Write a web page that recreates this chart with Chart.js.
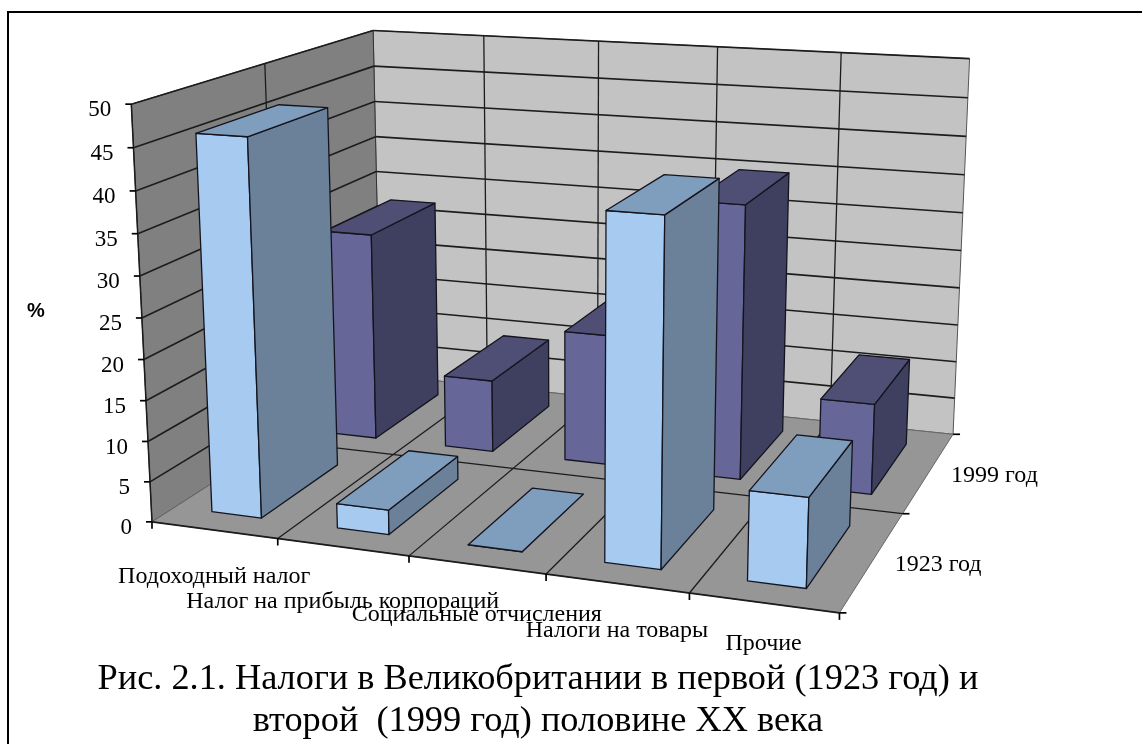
<!DOCTYPE html>
<html>
<head>
<meta charset="utf-8">
<script src="https://cdn.jsdelivr.net/npm/chart.js@4"></script>
<style>
  html, body { margin: 0; background: #fff; }
  canvas { display: block; filter: blur(0.55px); }
</style>
</head>
<body>
<canvas id="myChart" width="1142" height="744"></canvas>
<script>
const categories = ['Подоходный налог', 'Налог на прибыль корпораций', 'Социальные отчисления', 'Налоги на товары', 'Прочие'];
const seriesNames = ['1923 год', '1999 год'];
const values1923 = [46, 3, 0, 40.5, 10.5];
const values1999 = [27.5, 9.5, 17, 35, 11.5];
const axisTitle = '%';
const caption = ['Рис. 2.1. Налоги в Великобритании в первой (1923 год) и', 'второй  (1999 год) половине XX века'];

// where the corners of the 3d box landed in the picture: [u, v, w, px, py]
// u = category units, v = series units, w = 0..1 of the value axis
const calib = [
  [0, 0, 0, 152, 520], [1, 0, 0, 278, 538], [2, 0, 0, 409, 557], [3, 0, 0, 545, 575], [4, 0, 0, 689, 593], [5, 0, 0, 839, 613],
  [5, 1, 0, 905, 513], [5, 2, 0, 952, 433], [0, 2, 0, 381, 377],
  [0, 0, 1, 131, 105], [0, 1, 1, 266, 63], [0, 2, 1, 373, 29],
  [1, 2, 1, 483, 35], [2, 2, 1, 599, 42], [3, 2, 1, 717, 47], [4, 2, 1, 841, 53], [5, 2, 1, 970, 59]
];

function solve(A, b) {
  const n = b.length;
  for (let i = 0; i < n; i++) {
    let p = i;
    for (let r = i + 1; r < n; r++) if (Math.abs(A[r][i]) > Math.abs(A[p][i])) p = r;
    [A[i], A[p]] = [A[p], A[i]];
    [b[i], b[p]] = [b[p], b[i]];
    for (let r = i + 1; r < n; r++) {
      const f = A[r][i] / A[i][i];
      for (let c = i; c < n; c++) A[r][c] -= f * A[i][c];
      b[r] -= f * b[i];
    }
  }
  const x = new Array(n).fill(0);
  for (let i = n - 1; i >= 0; i--) {
    let s = b[i];
    for (let c = i + 1; c < n; c++) s -= A[i][c] * x[c];
    x[i] = s / A[i][i];
  }
  return x;
}

function fitCamera() {
  const rows = [], rhs = [];
  calib.forEach(([u, v, w, x, y]) => {
    rows.push([u, v, w, 1, 0, 0, 0, 0, -x * u, -x * v, -x * w]); rhs.push(x);
    rows.push([0, 0, 0, 0, u, v, w, 1, -y * u, -y * v, -y * w]); rhs.push(y);
  });
  const N = [], t = [];
  for (let i = 0; i < 11; i++) {
    N.push([]);
    t.push(rows.reduce((s, r, k) => s + r[i] * rhs[k], 0));
    for (let j = 0; j < 11; j++) N[i].push(rows.reduce((s, r) => s + r[i] * r[j], 0));
  }
  return solve(N, t);
}
const cam = fitCamera();

function project(u, v, w) {
  const d = cam[8] * u + cam[9] * v + cam[10] * w + 1;
  return [(cam[0] * u + cam[1] * v + cam[2] * w + cam[3]) / d, (cam[4] * u + cam[5] * v + cam[6] * w + cam[7]) / d];
}

function poly(ctx, pts, fill, stroke, lw) {
  ctx.beginPath();
  pts.forEach((p, i) => i ? ctx.lineTo(p[0], p[1]) : ctx.moveTo(p[0], p[1]));
  ctx.closePath();
  if (fill) { ctx.fillStyle = fill; ctx.fill(); }
  if (stroke) { ctx.strokeStyle = stroke; ctx.lineWidth = lw; ctx.lineJoin = 'round'; ctx.stroke(); }
}

function seg(ctx, a, b, color, lw) {
  ctx.beginPath();
  ctx.moveTo(a[0], a[1]);
  ctx.lineTo(b[0], b[1]);
  ctx.strokeStyle = color;
  ctx.lineWidth = lw;
  ctx.stroke();
}

// bars as boxes, position and size still come from the bar elements
class Bar3D extends Chart.BarController {
  draw() {
    const ctx = this.chart.ctx;
    const meta = this._cachedMeta;
    const xs = meta.xScale, ys = meta.yScale, ds = this.chart.scales.depth;
    const ns = categories.length, nd = seriesNames.length;
    const colors = this.getDataset().faces;
    const vc = ds.getDecimalForPixel(ds.getPixelForTick(this.index)) * nd;
    const v0 = vc - 0.33, v1 = vc + 0.31;
    meta.data.forEach((el) => {
      const uc = xs.getDecimalForPixel(el.x) * ns;
      const hw = el.width / xs.width * ns / 2;
      const u0 = uc - hw, u1 = uc + hw;
      const w = ys.getDecimalForPixel(el.y);
      const line = '#14141e';
      poly(ctx, [project(u0, v0, 0), project(u1, v0, 0), project(u1, v0, w), project(u0, v0, w)], colors.front, line, 1.3);
      poly(ctx, [project(u1, v0, 0), project(u1, v1, 0), project(u1, v1, w), project(u1, v0, w)], colors.side, line, 1.3);
      poly(ctx, [project(u0, v0, w), project(u1, v0, w), project(u1, v1, w), project(u0, v1, w)], colors.top, line, 1.3);
    });
  }
}
Bar3D.id = 'bar3d';
Bar3D.defaults = Chart.BarController.defaults;
Chart.register(Bar3D);

const room = {
  id: 'room',
  beforeDatasetsDraw(chart) {
    const ctx = chart.ctx;
    const ys = chart.scales.y;
    const nu = categories.length, nv = seriesNames.length;
    const gridColor = '#1c1c1c';
    const tickW = (t) => ys.getDecimalForPixel(ys.getPixelForValue(t.value));

    // page frame
    ctx.save();
    ctx.fillStyle = '#000';
    ctx.fillRect(7, 11, 1135, 2);
    ctx.fillRect(7, 11, 2, 733);

    // walls and floor
    poly(ctx, [project(0, nv, 0), project(nu, nv, 0), project(nu, nv, 1), project(0, nv, 1)], '#c3c3c3', '#555', 1);
    poly(ctx, [project(0, 0, 0), project(0, nv, 0), project(0, nv, 1), project(0, 0, 1)], '#808080', '#333', 1);
    poly(ctx, [project(0, 0, 0), project(nu, 0, 0), project(nu, nv, 0), project(0, nv, 0)], '#969696', '#666', 1);

    // gridlines at the value ticks, the zero one is just the floor edge
    ys.ticks.forEach((t) => {
      if (t.value === 0) return;
      const w = tickW(t);
      seg(ctx, project(0, 0, w), project(0, nv, w), gridColor, 1.6);
      seg(ctx, project(0, nv, w), project(nu, nv, w), gridColor, 1.6);
    });
    for (let u = 1; u < nu; u++) {
      seg(ctx, project(u, nv, 0), project(u, nv, 1), gridColor, 1.3);
      seg(ctx, project(u, 0, 0), project(u, nv, 0), gridColor, 1.3);
    }
    for (let v = 1; v < nv; v++) {
      seg(ctx, project(0, v, 0), project(0, v, 1), gridColor, 1.3);
      seg(ctx, project(0, v, 0), project(nu, v, 0), gridColor, 1.3);
    }
    seg(ctx, project(0, 0, 0), project(nu, 0, 0), gridColor, 1.7);
    seg(ctx, project(0, 0, 0), project(0, 0, 1), gridColor, 1.5);

    // value axis ticks and labels
    ctx.fillStyle = '#000';
    ctx.font = '23px "Liberation Serif"';
    ctx.textAlign = 'right';
    ctx.textBaseline = 'middle';
    ys.ticks.forEach((t) => {
      const p = project(0, 0, tickW(t));
      seg(ctx, [p[0] - 6, p[1]], p, '#000', 1.7);
      ctx.fillText(t.label, p[0] - 20, p[1] + 6);
    });

    // category ticks and labels (excel staggers these, hence the drops)
    const labelDrop = [47, 55, 50, 47, 41];
    for (let u = 0; u <= nu; u++) {
      const p = project(u, 0, 0);
      seg(ctx, p, [p[0], p[1] + 7], '#000', 1.7);
    }
    ctx.font = '24px "Liberation Serif"';
    ctx.textAlign = 'center';
    categories.forEach((c, i) => {
      const p = project(i + 0.5, 0, 0);
      ctx.fillText(c, p[0], p[1] + labelDrop[i]);
    });

    // series ticks and labels
    ctx.textAlign = 'left';
    for (let v = 0; v <= nv; v++) {
      const p = project(nu, v, 0);
      seg(ctx, p, [p[0] + 7, p[1]], '#000', 1.7);
    }
    seriesNames.forEach((s, i) => {
      const p = project(nu, i + 0.5, 0);
      ctx.fillText(s, p[0] + 22, p[1] + 4);
    });

    ctx.font = 'bold 20px "Liberation Sans"';
    ctx.textAlign = 'center';
    ctx.fillText(axisTitle, 36, 311);
    ctx.restore();
  }
};

let myChart = document.getElementById('myChart').getContext('2d');

let taxChart = new Chart(myChart, {
  type: 'bar3d',
  plugins: [room],
  data: {
    labels: categories,
    datasets: [
      { label: seriesNames[0], data: values1923, clip: false, faces: { front: '#a6caf0', side: '#6b8199', top: '#7f9dbc' } },
      { label: seriesNames[1], data: values1999, clip: false, faces: { front: '#666699', side: '#3f3f5f', top: '#4f4f75' } }
    ]
  },
  options: {
    responsive: false,
    animation: false,
    layout: { padding: { right: 66, bottom: 1 } },
    datasets: { bar3d: { grouped: false, barPercentage: 0.4, categoryPercentage: 1 } },
    scales: {
      x: { type: 'category', display: false, offset: true },
      y: { type: 'linear', display: false, min: 0, max: 50, ticks: { stepSize: 5 } },
      depth: { type: 'category', axis: 'x', display: false, offset: true, labels: seriesNames }
    },
    plugins: {
      legend: { display: false },
      tooltip: { enabled: false },
      title: {
        display: true,
        position: 'bottom',
        text: caption,
        color: '#000',
        padding: 0,
        font: { family: '"Liberation Serif"', size: 36.3, weight: 'normal', lineHeight: 1.16 }
      }
    }
  }
});
</script>
</body>
</html>
